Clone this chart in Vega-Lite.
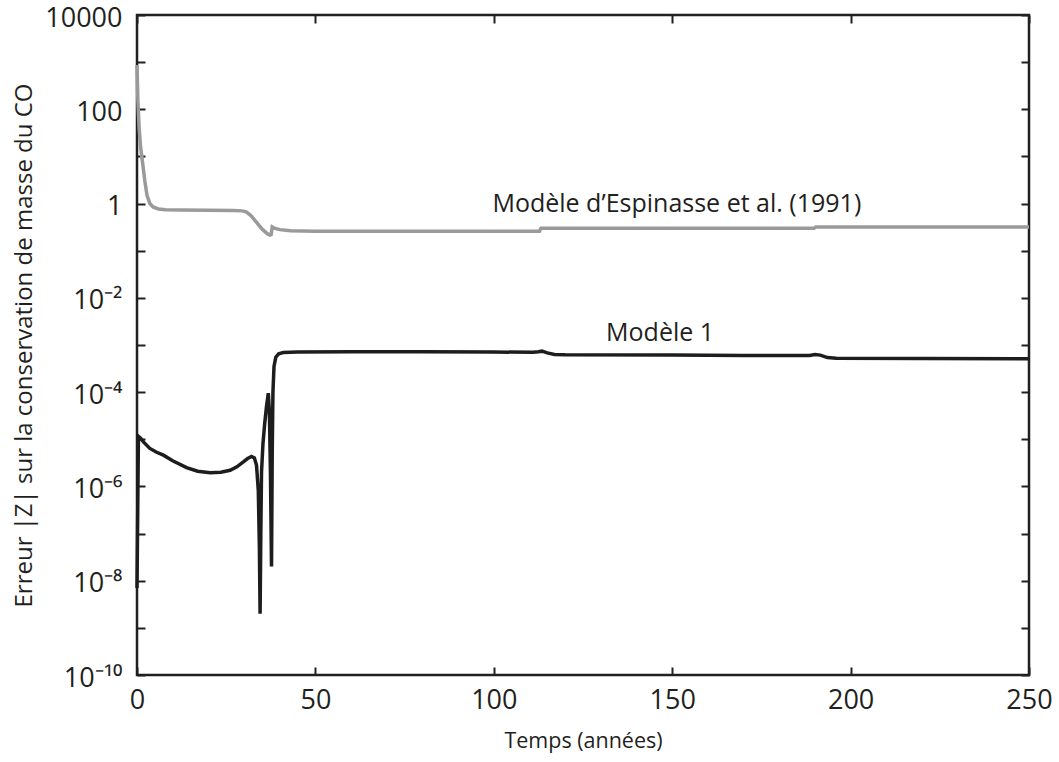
{
  "$schema": "https://vega.github.io/schema/vega-lite/v6.json",
  "width": 892,
  "height": 660,
  "autosize": "none",
  "padding": {"left": 137, "top": 15, "right": 30, "bottom": 87},
  "background": "white",
  "config": {
    "view": {"stroke": "#231f20", "strokeWidth": 2.5},
    "font": "Open Sans",
    "axis": {
      "domain": false,
      "grid": false,
      "tickColor": "#231f20",
      "tickWidth": 2,
      "tickSize": -8,
      "labelColor": "#231f20",
      "labelFont": "Open Sans",
      "labelFontSize": 27,
      "titleFont": "Open Sans",
      "titleFontSize": 24,
      "titleFontWeight": "normal",
      "titleColor": "#231f20"
    }
  },
  "datasets": {
    "curves": [
      {"series": "Modèle d’Espinasse et al. (1991)", "t": 0, "v": 870},
      {"series": "Modèle d’Espinasse et al. (1991)", "t": 0.25, "v": 150},
      {"series": "Modèle d’Espinasse et al. (1991)", "t": 0.6, "v": 40},
      {"series": "Modèle d’Espinasse et al. (1991)", "t": 1, "v": 16},
      {"series": "Modèle d’Espinasse et al. (1991)", "t": 1.5, "v": 8},
      {"series": "Modèle d’Espinasse et al. (1991)", "t": 2.2, "v": 3},
      {"series": "Modèle d’Espinasse et al. (1991)", "t": 2.8, "v": 1.5},
      {"series": "Modèle d’Espinasse et al. (1991)", "t": 3.6, "v": 1.0},
      {"series": "Modèle d’Espinasse et al. (1991)", "t": 4.5, "v": 0.85},
      {"series": "Modèle d’Espinasse et al. (1991)", "t": 6, "v": 0.77},
      {"series": "Modèle d’Espinasse et al. (1991)", "t": 8, "v": 0.74},
      {"series": "Modèle d’Espinasse et al. (1991)", "t": 12, "v": 0.73},
      {"series": "Modèle d’Espinasse et al. (1991)", "t": 20, "v": 0.72},
      {"series": "Modèle d’Espinasse et al. (1991)", "t": 27, "v": 0.715},
      {"series": "Modèle d’Espinasse et al. (1991)", "t": 29.5, "v": 0.7},
      {"series": "Modèle d’Espinasse et al. (1991)", "t": 30.7, "v": 0.66},
      {"series": "Modèle d’Espinasse et al. (1991)", "t": 32, "v": 0.55},
      {"series": "Modèle d’Espinasse et al. (1991)", "t": 33.5, "v": 0.4},
      {"series": "Modèle d’Espinasse et al. (1991)", "t": 35, "v": 0.29},
      {"series": "Modèle d’Espinasse et al. (1991)", "t": 36.5, "v": 0.23},
      {"series": "Modèle d’Espinasse et al. (1991)", "t": 37.3, "v": 0.215},
      {"series": "Modèle d’Espinasse et al. (1991)", "t": 37.6, "v": 0.22},
      {"series": "Modèle d’Espinasse et al. (1991)", "t": 37.9, "v": 0.32},
      {"series": "Modèle d’Espinasse et al. (1991)", "t": 38.5, "v": 0.3},
      {"series": "Modèle d’Espinasse et al. (1991)", "t": 40, "v": 0.28},
      {"series": "Modèle d’Espinasse et al. (1991)", "t": 43, "v": 0.265},
      {"series": "Modèle d’Espinasse et al. (1991)", "t": 50, "v": 0.26},
      {"series": "Modèle d’Espinasse et al. (1991)", "t": 80, "v": 0.26},
      {"series": "Modèle d’Espinasse et al. (1991)", "t": 112.8, "v": 0.26},
      {"series": "Modèle d’Espinasse et al. (1991)", "t": 113.2, "v": 0.3},
      {"series": "Modèle d’Espinasse et al. (1991)", "t": 114, "v": 0.3},
      {"series": "Modèle d’Espinasse et al. (1991)", "t": 150, "v": 0.3},
      {"series": "Modèle d’Espinasse et al. (1991)", "t": 189.8, "v": 0.3},
      {"series": "Modèle d’Espinasse et al. (1991)", "t": 190.2, "v": 0.32},
      {"series": "Modèle d’Espinasse et al. (1991)", "t": 250, "v": 0.32},
      {"series": "Modèle 1", "t": 0, "v": 7e-9},
      {"series": "Modèle 1", "t": 0.4, "v": 1.15e-5},
      {"series": "Modèle 1", "t": 1, "v": 1.05e-5},
      {"series": "Modèle 1", "t": 2, "v": 8.5e-6},
      {"series": "Modèle 1", "t": 3.6, "v": 6.4e-6},
      {"series": "Modèle 1", "t": 5.5, "v": 5.3e-6},
      {"series": "Modèle 1", "t": 7.4, "v": 4.6e-6},
      {"series": "Modèle 1", "t": 10, "v": 3.5e-6},
      {"series": "Modèle 1", "t": 13.9, "v": 2.5e-6},
      {"series": "Modèle 1", "t": 17, "v": 2.1e-6},
      {"series": "Modèle 1", "t": 20.5, "v": 1.95e-6},
      {"series": "Modèle 1", "t": 23.5, "v": 2.0e-6},
      {"series": "Modèle 1", "t": 26.1, "v": 2.2e-6},
      {"series": "Modèle 1", "t": 28, "v": 2.6e-6},
      {"series": "Modèle 1", "t": 29.8, "v": 3.3e-6},
      {"series": "Modèle 1", "t": 31, "v": 3.9e-6},
      {"series": "Modèle 1", "t": 32.1, "v": 4.3e-6},
      {"series": "Modèle 1", "t": 32.9, "v": 4.0e-6},
      {"series": "Modèle 1", "t": 33.5, "v": 2.8e-6},
      {"series": "Modèle 1", "t": 34, "v": 8e-7},
      {"series": "Modèle 1", "t": 34.3, "v": 5e-8},
      {"series": "Modèle 1", "t": 34.5, "v": 2e-9},
      {"series": "Modèle 1", "t": 34.7, "v": 1e-7},
      {"series": "Modèle 1", "t": 34.9, "v": 2e-6},
      {"series": "Modèle 1", "t": 35.3, "v": 8e-6},
      {"series": "Modèle 1", "t": 35.8, "v": 2.2e-5},
      {"series": "Modèle 1", "t": 36.3, "v": 5e-5},
      {"series": "Modèle 1", "t": 36.8, "v": 9.5e-5},
      {"series": "Modèle 1", "t": 37.1, "v": 4e-5},
      {"series": "Modèle 1", "t": 37.4, "v": 2e-6},
      {"series": "Modèle 1", "t": 37.7, "v": 2e-8},
      {"series": "Modèle 1", "t": 37.9, "v": 5e-6},
      {"series": "Modèle 1", "t": 38.1, "v": 1e-4},
      {"series": "Modèle 1", "t": 38.4, "v": 3.5e-4},
      {"series": "Modèle 1", "t": 38.9, "v": 5.5e-4},
      {"series": "Modèle 1", "t": 39.7, "v": 6.5e-4},
      {"series": "Modèle 1", "t": 41, "v": 6.9e-4},
      {"series": "Modèle 1", "t": 45, "v": 7.1e-4},
      {"series": "Modèle 1", "t": 60, "v": 7.2e-4},
      {"series": "Modèle 1", "t": 80, "v": 7.2e-4},
      {"series": "Modèle 1", "t": 100, "v": 7.1e-4},
      {"series": "Modèle 1", "t": 111, "v": 7.0e-4},
      {"series": "Modèle 1", "t": 112.5, "v": 7.2e-4},
      {"series": "Modèle 1", "t": 113.5, "v": 7.4e-4},
      {"series": "Modèle 1", "t": 115, "v": 6.8e-4},
      {"series": "Modèle 1", "t": 117, "v": 6.3e-4},
      {"series": "Modèle 1", "t": 120, "v": 6.2e-4},
      {"series": "Modèle 1", "t": 150, "v": 6.1e-4},
      {"series": "Modèle 1", "t": 170, "v": 6.0e-4},
      {"series": "Modèle 1", "t": 188.5, "v": 6.0e-4},
      {"series": "Modèle 1", "t": 190, "v": 6.3e-4},
      {"series": "Modèle 1", "t": 191.5, "v": 6.1e-4},
      {"series": "Modèle 1", "t": 193.5, "v": 5.4e-4},
      {"series": "Modèle 1", "t": 196, "v": 5.25e-4},
      {"series": "Modèle 1", "t": 220, "v": 5.2e-4},
      {"series": "Modèle 1", "t": 250, "v": 5.1e-4}
    ],
    "labels": [
      {"label": "Modèle d’Espinasse et al. (1991)", "t": 151.3, "v": 1.0},
      {"label": "Modèle 1", "t": 146.6, "v": 1.8e-3}
    ]
  },
  "layer": [
    {
      "data": {"name": "curves"},
      "mark": {"type": "line", "strokeWidth": 3.5, "interpolate": "linear"},
      "encoding": {
        "x": {
          "field": "t", "type": "quantitative",
          "scale": {"domain": [0, 250], "nice": false, "zero": false},
          "axis": {"orient": "bottom", "values": [0, 50, 100, 150, 200, 250], "labelPadding": 20, "title": "Temps (années)", "titleFontSize": 21.5, "titlePadding": 17, "labelFlush": false}
        },
        "y": {
          "field": "v", "type": "quantitative",
          "scale": {"type": "log", "domain": [1e-10, 10000], "nice": false},
          "axis": {
            "orient": "left",
            "values": [1e-10, 1e-9, 1e-8, 1e-7, 1e-6, 1e-5, 1e-4, 1e-3, 1e-2, 1e-1, 1, 10, 100, 1000, 10000],
            "labelPadding": 23,
            "labelOffset": 3,
            "labelFlush": false,
            "labelOverlap": false,
            "labelExpr": "round(log(datum.value)/LN10) == 4 ? '10000' : round(log(datum.value)/LN10) == 2 ? '100' : round(log(datum.value)/LN10) == 0 ? '1' : round(log(datum.value)/LN10) == -2 ? '10⁻²' : round(log(datum.value)/LN10) == -4 ? '10⁻⁴' : round(log(datum.value)/LN10) == -6 ? '10⁻⁶' : round(log(datum.value)/LN10) == -8 ? '10⁻⁸' : round(log(datum.value)/LN10) == -10 ? '10⁻¹⁰' : ''",
            "title": "Erreur |Z| sur la conservation de masse du CO",
            "titlePadding": 8
          }
        },
        "color": {
          "field": "series", "type": "nominal",
          "scale": {"domain": ["Modèle d’Espinasse et al. (1991)", "Modèle 1"], "range": ["#9a9a9a", "#1d1d1d"]},
          "legend": null
        }
      }
    },
    {
      "data": {"name": "curves"},
      "mark": {"type": "line", "opacity": 0},
      "encoding": {
        "x": {
          "field": "t", "type": "quantitative",
          "scale": {"domain": [0, 250], "nice": false, "zero": false},
          "axis": {"orient": "top", "values": [0, 50, 100, 150, 200, 250], "labels": false, "title": null}
        },
        "y": {
          "field": "v", "type": "quantitative",
          "scale": {"type": "log", "domain": [1e-10, 10000], "nice": false},
          "axis": {"orient": "right", "values": [1e-10, 1e-9, 1e-8, 1e-7, 1e-6, 1e-5, 1e-4, 1e-3, 1e-2, 1e-1, 1, 10, 100, 1000, 10000], "labels": false, "title": null}
        },
        "detail": {"field": "series"}
      }
    },
    {
      "data": {"name": "labels"},
      "mark": {"type": "text", "font": "Open Sans", "fontSize": 25, "color": "#231f20", "baseline": "middle", "align": "center"},
      "encoding": {
        "x": {"field": "t", "type": "quantitative", "scale": {"domain": [0, 250], "nice": false, "zero": false}, "axis": null},
        "y": {"field": "v", "type": "quantitative", "scale": {"type": "log", "domain": [1e-10, 10000], "nice": false}, "axis": null},
        "text": {"field": "label"}
      }
    }
  ],
  "resolve": {"axis": {"x": "independent", "y": "independent"}}
}
